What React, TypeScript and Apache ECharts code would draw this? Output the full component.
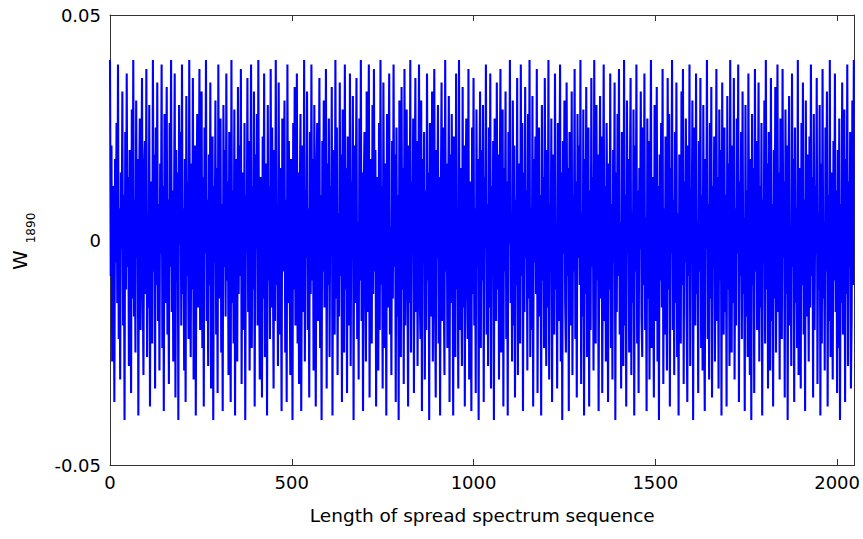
import React, { useEffect, useRef } from "react";
import * as echarts from "echarts";

// Values in thousandths (x 0.001), one value every 2 samples
const STEP = 2;
const seg1 = [
40,-8,21,-27,12,3,-36,18,-5,26,-14,39,-22,7,-31,15,
-2,33,-19,10,-40,24,-11,37,-6,14,-28,20,2,-34,29,-13,
40,-17,9,-25,31,-4,18,-39,11,27,-20,5,36,-9,-30,16,
22,-12,38,-26,6,-15,30,-37,13,1,-23,40,-7,19,-33,25,
-10,35,-18,8,-29,17,-3,39,-24,12,-38,28,-14,4,34,-21,
9,-32,26,-6,40,-16,11,-27,3,37,-35,20,-9,15,-40,30,
-1,24,-19,39,-12,7,-29,18,-36,32,-8,13,-22,40,-4,-26,
17,-11,36,-31,5,21,-39,10,28,-15,2,38,-20,-7,33,-24,
14,-37,25,-3,40,-18,9,-28,19,-10,35,-33,6,23,-40,12,
-5,31,-21,16,-34,39,-13,2,27,-25,8,-38,30,-6,20,-17,
37,-9,13,-30,24,-1,-36,40,-14,11,-23,29,-39,18,4,-27,
34,-12,21,-8,38,-32,7,15,-20,26,-40,10,-3,36,-16,22,
-29,5,39,-24,12,-11,33,-37,19,-2,28,-19,40,-6,-31,14,
8,-35,23,-13,37,-26,3,17,-39,30,-9,12,-22,38,-15,25,
-4,-33,20,-18,40,-10,6,-28,35,-21,16,1,-38,27,-7,11,
31,-25,9,-36,39,-14,22,-5,-30,18,13,-40,26,-11,34,-19,
];
const seg2 = [
-6,37,-23,15,-32,9,28,-38,2,21,-16,40,-27,11,-4,33,
-20,7,-35,24,-12,39,-9,18,-29,30,-1,-37,14,26,-18,5,
36,-24,10,-40,22,-7,31,-15,3,38,-33,17,-10,27,-26,12,
-2,34,-39,20,8,-21,40,-13,25,-30,6,-17,35,-8,19,-36,
29,-5,-25,39,-11,16,-34,23,1,-19,37,-28,13,-3,32,-40,
21,-14,9,36,-22,4,-31,27,-9,40,-18,15,-38,11,24,-6,
-27,33,-16,7,39,-35,18,-1,-23,30,-12,38,-7,20,-37,14,
5,-29,26,-20,40,-10,12,-33,35,-4,-24,17,-39,28,-15,8,
37,-21,3,-30,22,-13,39,-6,19,-36,25,-17,10,-40,31,-2,
-26,34,-11,16,-32,38,-19,6,29,-8,-37,21,-14,40,-25,13,
-3,27,-34,9,36,-16,22,-28,4,39,-12,-22,31,-38,18,-5,
24,-31,11,-20,37,-9,15,-40,26,2,-17,33,-27,10,38,-13,
-35,20,-4,30,-23,14,-39,8,35,-18,25,-10,-30,40,-7,17,
-24,3,32,-36,19,-14,28,-2,-39,23,12,-26,37,-11,6,-33,
40,-20,16,-8,-28,34,-15,21,-37,9,27,-5,-22,38,-31,13,
1,-38,25,-12,36,-19,7,-34,29,-6,18,-40,11,33,-24,20,
];
const seg3 = [
-9,30,-36,14,-2,39,-21,8,-28,25,-15,37,-33,12,-6,22,
-40,27,4,-18,35,-11,19,-31,10,38,-25,-3,29,-37,16,-7,
33,-22,13,-39,24,-1,40,-14,6,-27,31,-19,21,-35,9,-10,
36,-30,17,2,-23,39,-8,26,-38,15,-16,34,-4,11,-29,28,
-13,40,-26,7,-20,32,-37,18,-5,23,-12,38,-34,3,25,-17,
10,-39,30,-9,14,-24,36,-2,-28,20,-15,40,-31,8,-6,27,
-36,12,19,-21,37,-11,4,-33,26,-18,9,39,-27,15,-40,22,
-3,31,-14,-25,35,-8,16,-38,24,1,-19,33,-30,10,-7,38,
-22,13,-35,28,-4,21,-10,40,-32,6,-17,29,-39,18,-12,34,
-26,2,25,-37,11,-20,36,-6,14,-29,40,-15,-23,30,-9,19,
-38,7,32,-13,23,-34,3,39,-18,12,-27,26,-1,-36,17,-11,
37,-24,8,-31,20,-5,35,-40,15,-16,28,-8,38,-21,4,-33,
24,-12,-28,40,-19,10,-37,31,-3,18,-25,13,36,-30,6,-14,
29,-39,21,-7,39,-23,11,-34,16,-2,33,-17,-26,25,-10,37,
-20,5,-38,27,-13,22,-31,9,40,-24,14,-6,-35,30,-18,3,
34,-27,12,-40,19,-9,26,-15,38,-32,7,-21,23,-4,-29,36,
];
const seg4 = [
-11,28,-37,16,-3,40,-20,9,-30,24,-14,35,-26,6,-39,19,
2,-23,33,-10,38,-32,13,-5,27,-17,-36,21,-8,39,-28,11,
-1,31,-40,15,25,-19,37,-12,4,-34,22,-7,36,-24,10,-29,
30,-15,-38,18,-2,40,-22,8,-31,26,-13,34,-35,12,-6,23,
-27,1,38,-18,14,-33,29,-9,20,-39,35,-4,-21,25,-16,10,
-37,32,-11,17,-28,40,-6,-25,21,-14,36,-31,7,-19,27,-3,
39,-36,13,-8,24,-22,33,-12,5,-38,30,-17,11,-26,37,-1,
-30,18,-40,28,-10,16,-34,38,-7,22,-20,3,35,-27,12,-15,
26,-39,9,-5,31,-23,40,-11,17,-33,24,-2,-29,36,-18,8,
-37,20,-13,34,-25,6,39,-16,15,-31,27,-9,-22,38,-4,13,
-35,29,-12,21,-40,11,32,-19,3,-28,37,-6,18,-36,25,-14,
7,-24,40,-30,16,-1,-33,26,-10,35,-21,9,-38,31,-17,19,
-5,-27,23,-15,39,-8,14,-35,28,-20,12,-3,36,-32,6,-11,
30,-39,17,-23,38,-13,4,-29,25,-7,33,-37,10,-18,40,-26,
15,-2,-31,22,-9,37,-16,11,-34,20,-24,27,-40,8,-14,35,
-21,5,29,-36,18,-12,39,-28,13,-6,24,-33,-17,31,-10,40,
];

const xTicks = [0, 500, 1000, 1500, 2000];
const yTicks = [-0.05, 0, 0.05];
const xName = "Length of spread spectrum sequence";
const yNameMain = "W";
const yNameSub = "1890";

const FONT = "DejaVu Sans, Liberation Sans, Arial, sans-serif";

export default function App() {
  const ref = useRef<HTMLDivElement>(null);
  useEffect(() => {
    if (!ref.current) return;
    const chart = echarts.init(ref.current, undefined, { renderer: "svg" });
    const all = [...seg1, ...seg2, ...seg3, ...seg4];
    const data = all.map((v, i) => [i * STEP, v / 1000]);
    const axisLine = { show: true, onZero: false, lineStyle: { color: "#333", width: 1 } };
    const tick = { show: true, inside: true, length: 6, lineStyle: { color: "#333" } };
    chart.setOption({
      animation: false,
      backgroundColor: "#fff",
      grid: { left: 110, right: 6, top: 15, bottom: 74, containLabel: false },
      xAxis: [
        {
          type: "value",
          min: 0,
          max: 2048,
          interval: 500,
          axisLine,
          axisTick: tick,
          splitLine: { show: false },
          axisLabel: {
            color: "#000",
            fontFamily: FONT,
            fontSize: 18,
            margin: 8,
            formatter: (v: number) => (xTicks.includes(v) ? String(v) : ""),
          },
          name: xName,
          nameLocation: "middle",
          nameGap: 41,
          nameTextStyle: { color: "#000", fontFamily: FONT, fontSize: 18.5 },
        },
        {
          type: "value",
          position: "top",
          min: 0,
          max: 2048,
          interval: 500,
          axisLine,
          axisTick: tick,
          axisLabel: { show: false },
          splitLine: { show: false },
        },
      ],
      yAxis: [
        {
          type: "value",
          min: -0.05,
          max: 0.05,
          interval: 0.05,
          axisLine,
          axisTick: tick,
          splitLine: { show: false },
          axisLabel: {
            color: "#000",
            fontFamily: FONT,
            fontSize: 18,
            margin: 9,
            formatter: (v: number) => {
              const t = yTicks.find((y) => Math.abs(y - v) < 1e-9);
              if (t === undefined) return "";
              return Math.abs(t) < 1e-9 ? "0" : t.toFixed(2);
            },
          },
        },
        {
          type: "value",
          position: "right",
          min: -0.05,
          max: 0.05,
          interval: 0.05,
          axisLine,
          axisTick: tick,
          axisLabel: { show: false },
          splitLine: { show: false },
        },
      ],
      graphic: [
        {
          type: "text",
          x: 19.5,
          y: 260,
          rotation: Math.PI / 2,
          style: {
            text: yNameMain,
            fontFamily: FONT,
            fontSize: 20,
            fill: "#000",
            textAlign: "center",
            textVerticalAlign: "middle",
          },
        },
        {
          type: "text",
          x: 31,
          y: 228,
          rotation: Math.PI / 2,
          style: {
            text: yNameSub,
            fontFamily: FONT,
            fontSize: 12,
            fill: "#000",
            textAlign: "center",
            textVerticalAlign: "middle",
          },
        },
      ],
      series: [
        {
          type: "line",
          data,
          showSymbol: false,
          symbol: "none",
          lineStyle: { color: "#0000ff", width: 2.1 },
          xAxisIndex: 0,
          yAxisIndex: 0,
        },
      ],
    });
    return () => chart.dispose();
  }, []);
  return <div ref={ref} style={{ width: 863, height: 539, position: "absolute", left: 0, top: 0 }} />;
}
